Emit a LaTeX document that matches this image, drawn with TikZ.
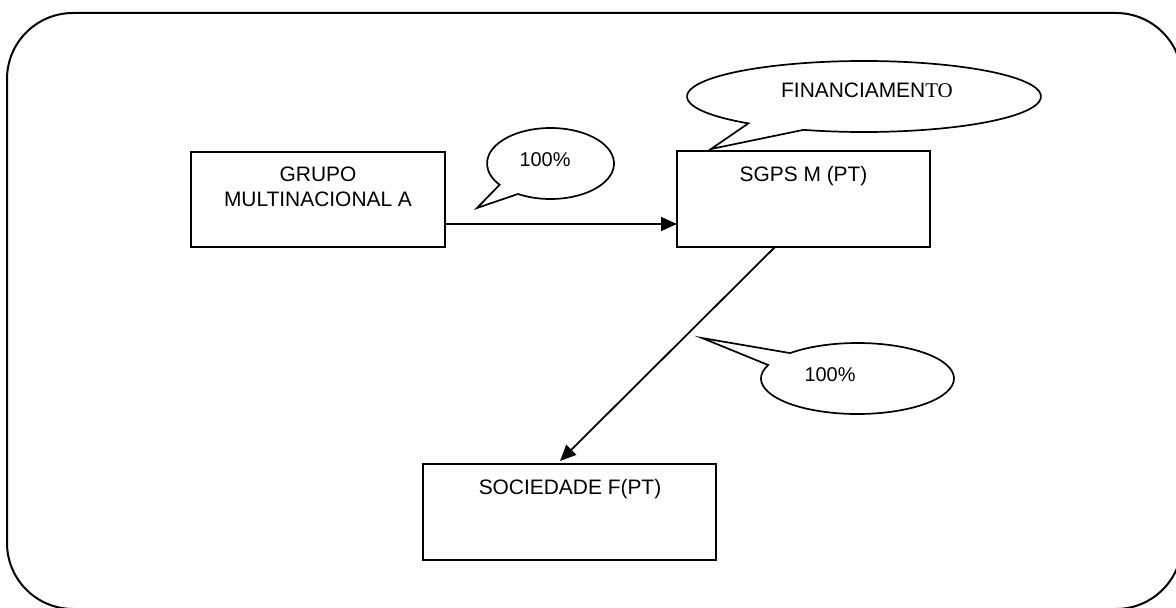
\documentclass[tikz,border=0pt]{standalone}
\usepackage{fontspec}
\setmainfont{Liberation Sans}
\newfontfamily\tmsfont{Liberation Serif}
\usetikzlibrary{arrows.meta}

\tikzset{
  entity/.style={draw, line width=1.8bp, inner sep=0pt, outer sep=0pt},
  label text/.style={font=\fontsize{21}{25}\selectfont, inner sep=0pt, anchor=base},
  pct text/.style={font=\fontsize{20}{24}\selectfont, inner sep=0pt, anchor=base},
  bubble/.style={draw, line width=1.7bp, fill=white, line join=miter},
  link/.style={line width=1.8bp, -{Triangle[length=16bp, width=14bp]}},
}

\begin{document}
\begin{tikzpicture}[x=1bp, y=1bp]
  \clip (0,0) rectangle (1176,-608);
  \fill[white] (0,0) rectangle (1176,-608);

  % outer rounded frame
  \draw[line width=2bp, rounded corners=66bp] (7,-13) rectangle (1182,-609);

  % entity boxes
  \node[entity, minimum width=254bp, minimum height=95bp] (grupo) at (318,-199.5) {};
  \node[entity, minimum width=253bp, minimum height=96bp] (sgps)  at (803.5,-199) {};
  \node[entity, minimum width=293bp, minimum height=96bp] (soc)   at (569.5,-512) {};

  \node[label text] (grupoA) at (318,-182) {GRUPO};
  \node[label text] (grupoB) at (318,-207) {MULTINACIONAL A};
  \node[label text] (sgpsT)  at (803.5,-182) {SGPS M (PT)};
  \node[label text] (socT)   at (570,-494.5) {SOCIEDADE F(PT)};

  % ownership links
  \draw[link] ([yshift=-24.5bp]grupo.east) -- ([yshift=-25bp]sgps.west);
  \draw[link] ([xshift=-28.5bp]sgps.south) -- ([xshift=-9.5bp, yshift=3bp]soc.north);

  % callout: 100% (top)
  \coordinate (c1) at (550.5,-163.5);
  \coordinate (t1) at (477,-208);
  \draw[bubble] ([shift={(239.2:63.5 and 35.5)}]c1)
      arc[start angle=239.2, end angle=576.8, x radius=63.5, y radius=35.5]
      -- (t1) -- cycle;
  \node[pct text] (p1) at (545,-166.7) {100\%};

  % callout: FINANCIAMENTO
  \coordinate (c2) at (864,-96.5);
  \coordinate (t2) at (711,-149);
  \draw[bubble] ([shift={(250:177 and 35.5)}]c2)
      arc[start angle=250, end angle=589.2, x radius=177, y radius=35.5]
      -- (t2) -- cycle;
  \node[label text, anchor=base east] (fin) at (953,-98) {FINANCIAMEN{\tmsfont TO}};

  % callout: 100% (bottom)
  \coordinate (c3) at (857.5,-378.5);
  \coordinate (t3) at (702,-338);
  \draw[bubble] ([shift={(157.7:96.5 and 35.5)}]c3)
      arc[start angle=157.7, end angle=494.3, x radius=96.5, y radius=35.5]
      -- (t3) -- cycle;
  \node[pct text] (p2) at (830,-381.7) {100\%};
\end{tikzpicture}
\end{document}
